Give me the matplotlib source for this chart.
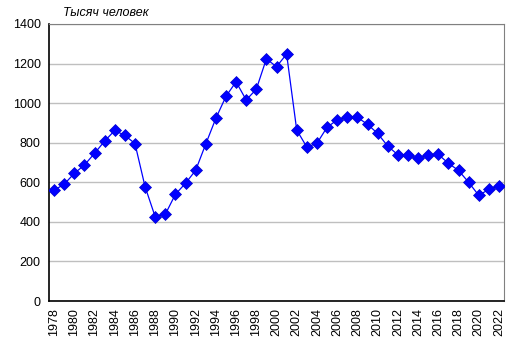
import numpy as np
import matplotlib
matplotlib.use("Agg")
import matplotlib.pyplot as plt

# values (thousand people)
years = list(range(1978, 2023))
values = [560, 590, 645, 687, 746, 808, 862, 837, 796, 578,
          426, 438, 539, 595, 660, 793, 923, 1034, 1108, 1016,
          1070, 1224, 1184, 1248, 864, 778, 797, 878, 915, 928,
          928, 893, 847, 783, 739, 736, 721, 736, 741, 696,
          660, 600, 534, 564, 580]
tick_years = years[::2]

plt.rcParams['font.family'] = ['Liberation Sans', 'DejaVu Sans']

fig = plt.figure(figsize=(5.17, 3.52), dpi=100)
ax = fig.add_axes([49 / 517, 1 - 301 / 352, 455 / 517, 277 / 352])

x = np.arange(len(years))
ax.plot(x, values, color='#0000FF', lw=0.9, marker='D', markersize=6,
        markerfacecolor='#0000FF', markeredgecolor='#0000CC', markeredgewidth=0.5,
        zorder=3)

ax.set_xlim(-0.5, len(years) - 0.5)
ax.set_ylim(0, 1400)
ax.set_yticks(range(0, 1401, 200))
ax.yaxis.grid(True, color='#BFBFBF', lw=1)
ax.set_axisbelow(True)

ax.set_xticks([years.index(y) for y in tick_years])
ax.set_xticklabels([str(y) for y in tick_years], rotation=90)
ax.tick_params(axis='x', length=0, labelsize=9, pad=5)
ax.tick_params(axis='y', length=0, labelsize=9, pad=6)

for s in ['top', 'right']:
    ax.spines[s].set_color('#808080')
for s in ['left', 'bottom']:
    ax.spines[s].set_color('black')
    ax.spines[s].set_linewidth(1.2)

fig.text(63 / 517, 1 - 13 / 352, 'Тысяч человек', fontsize=9, style='italic',
         va='center', ha='left')

fig.savefig('out.png', dpi=100)
